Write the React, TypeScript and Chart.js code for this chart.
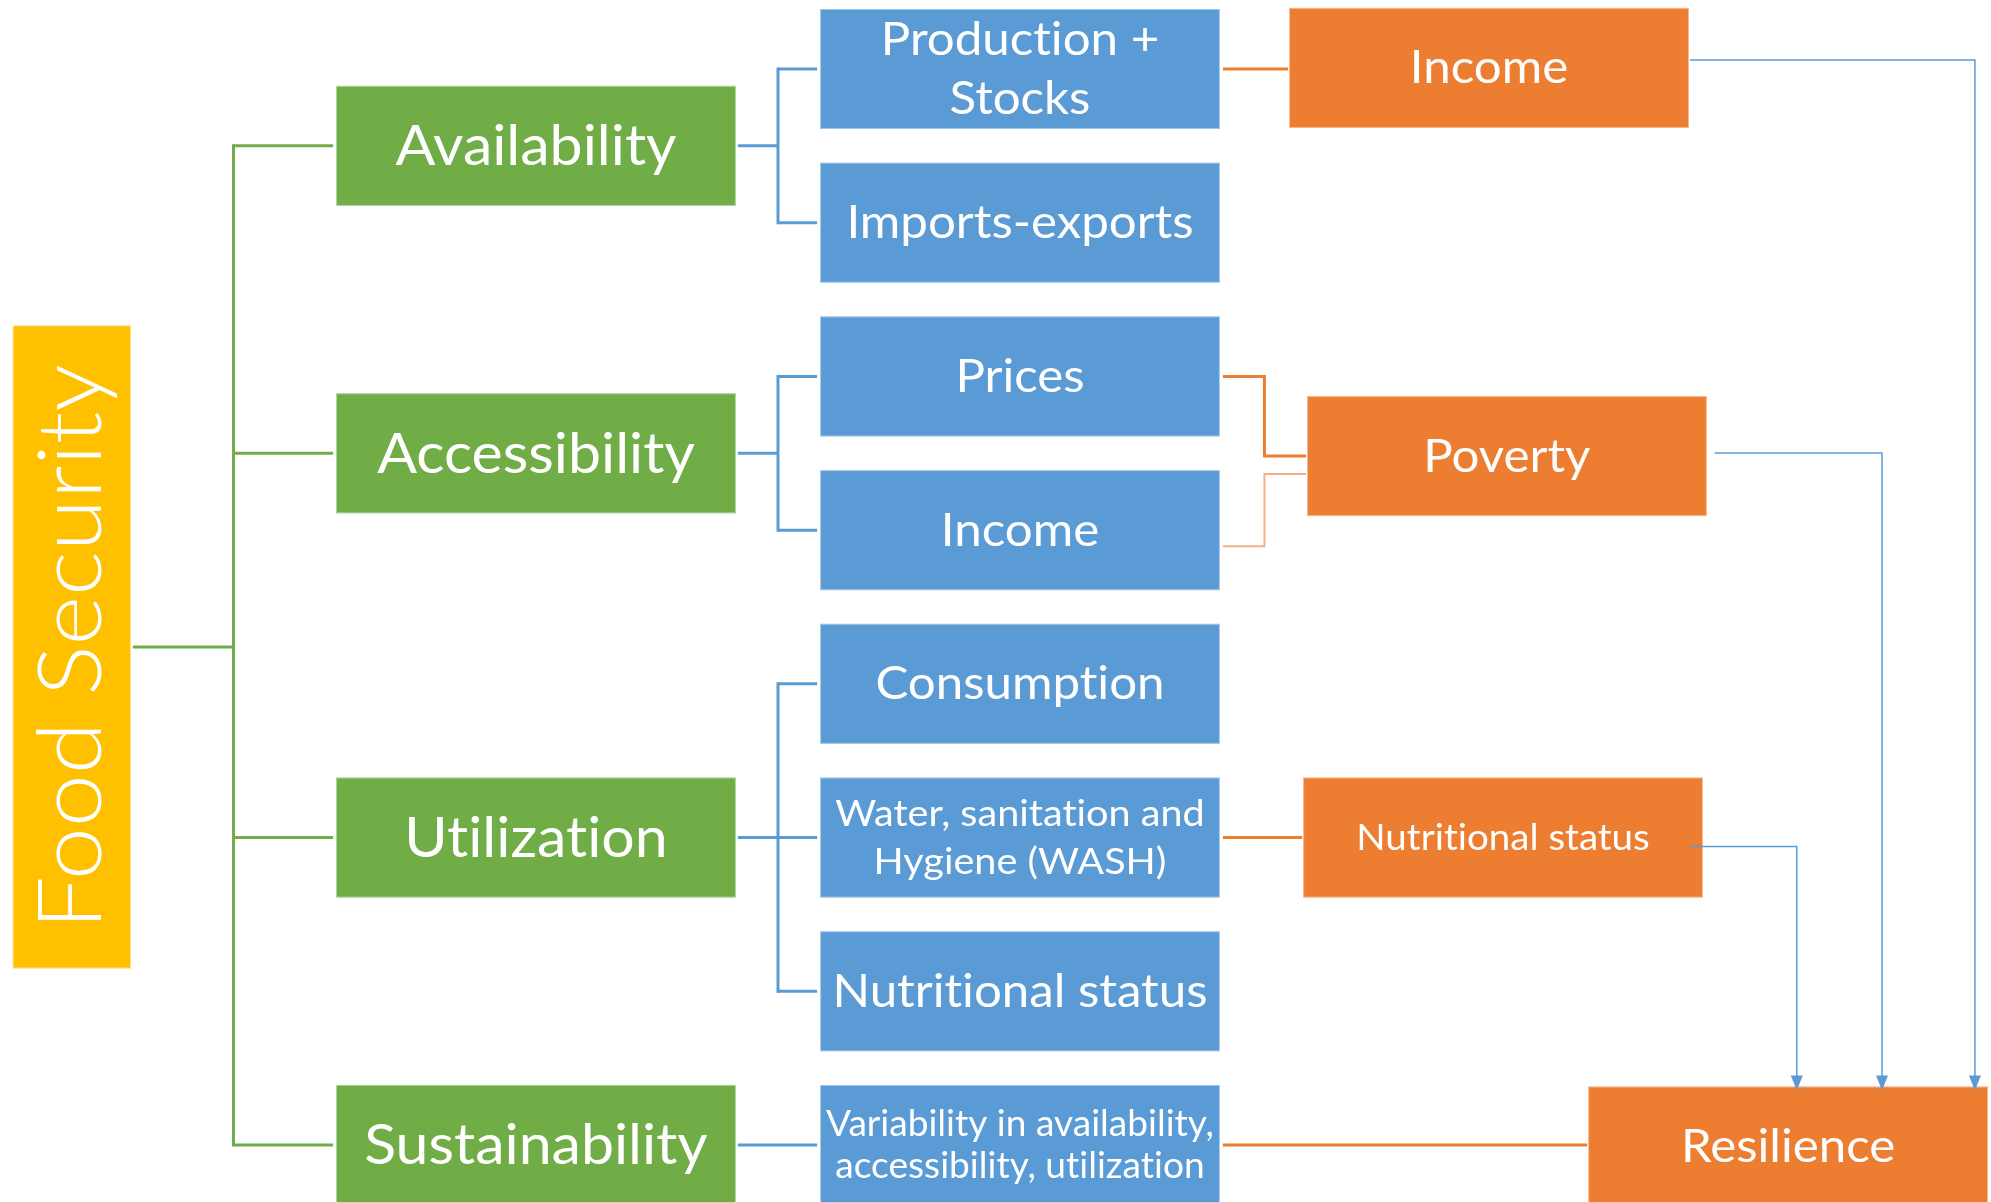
import React, { useEffect, useRef } from 'react';
import { Chart, registerables } from 'chart.js';

Chart.register(...registerables);

// ---------- DATA ----------
// Nodes of the diagram: id, label lines, level (0 = root, 1 = dimension, 2 = indicator, 3 = outcome)
const nodeIds = [
  'food', 'avail', 'access', 'util', 'sustain',
  'prod', 'imports', 'prices', 'incomeB', 'consumption', 'wash', 'nutriB', 'variability',
  'incomeO', 'poverty', 'nutriO', 'resilience',
];
const nodeLabels: string[][] = [
  ['Food Security'], ['Availability'], ['Accessibility'], ['Utilization'], ['Sustainability'],
  ['Production +', 'Stocks'], ['Imports-exports'], ['Prices'], ['Income'], ['Consumption'],
  ['Water, sanitation and', 'Hygiene (WASH)'], ['Nutritional status'],
  ['Variability in availability,', 'accessibility, utilization'],
  ['Income'], ['Poverty'], ['Nutritional status'], ['Resilience'],
];
const nodeLevel = [0, 1, 1, 1, 1, 2, 2, 2, 2, 2, 2, 2, 2, 3, 3, 3, 3];
// Position of each node in diagram units (column, row)
const nodeCol = [0.041, 1, 1, 1, 1, 2, 2, 2, 2, 2, 2, 2, 2, 2.969, 3.006, 2.998, 3.587];
const nodeRow = [3.76, 0.5, 2.5, 5, 7, 0, 1, 2, 3, 4, 5, 6, 7, -0.007, 2.518, 5, 7.01];

// Hierarchy links (parent -> child)
const treeEdges: [string, string][] = [
  ['food', 'avail'], ['food', 'access'], ['food', 'util'], ['food', 'sustain'],
  ['avail', 'prod'], ['avail', 'imports'],
  ['access', 'prices'], ['access', 'incomeB'],
  ['util', 'consumption'], ['util', 'wash'], ['util', 'nutriB'],
  ['sustain', 'variability'],
];
// Indicator -> outcome links
const impactFrom = ['prod', 'prices', 'incomeB', 'wash', 'variability'];
const impactTo = ['incomeO', 'poverty', 'poverty', 'nutriO', 'resilience'];
// Outcome -> resilience arrows, and the column of their vertical lane
const arrowFrom = ['incomeO', 'poverty', 'nutriO'];
const arrowLane = [3.973, 3.781, 3.605];

// ---------- STYLES ----------
const X_RANGE = [-0.1074, 4.0062];
const Y_RANGE = [-0.449, 7.371];
const FONT = 'Lato';
const levelStyle = [
  { fill: '#FFC000', w: 0.244, h: 4.183, size: 88, weight: 300, gap: 0, sx: 1.08 },
  { fill: '#70AD47', w: 0.826, h: 0.781, size: 57, weight: 400, gap: 0, sx: 1.035 },
  { fill: '#5B9BD5', w: 0.826, h: 0.781, size: 46, weight: 400, gap: 59, sx: 1.07 },
  { fill: '#ED7D31', w: 0.826, h: 0.781, size: 46, weight: 400, gap: 0, sx: 1.07 },
];
const textOverride: Record<string, { size: number; gap: number; sx: number }> = {
  wash: { size: 36, gap: 48, sx: 1.1 },
  variability: { size: 36, gap: 42, sx: 1.03 },
  nutriO: { size: 36, gap: 0, sx: 1.07 },
};
const impactStyle = [
  { color: '#ED7D31', width: 3, s1: 0, s2: 0 },
  { color: '#ED7D31', width: 3, s1: 0, s2: 0 },
  { color: '#F4B183', width: 2, s1: 0.104, s2: 0.117 },
  { color: '#ED7D31', width: 3, s1: 0, s2: 0 },
  { color: '#ED7D31', width: 3, s1: 0, s2: 0 },
];
const arrowStyle = [
  { s: -0.052, dx: 1 },
  { s: -0.02, dx: 8 },
  { s: 0.058, dx: -13 },
];

// break typographic "ti" ligatures so the text keeps its plain letter shapes
const noLig = (s: string) => s.replace(/t(?=[il])/g, 't\u200C').replace(/f(?=[il])/g, 'f\u200C');

const diagramPlugin = {
  id: 'diagram',
  afterDraw(chart: any) {
    const ctx: CanvasRenderingContext2D = chart.ctx;
    const xs = chart.scales.x;
    const ys = chart.scales.y;
    const px = (c: number) => xs.getPixelForValue(c);
    const py = (r: number) => ys.getPixelForValue(r);
    const idx = (id: string) => nodeIds.indexOf(id);
    const box = (id: string) => {
      const i = idx(id);
      const st = levelStyle[nodeLevel[i]];
      const cx = px(nodeCol[i]);
      const cy = py(nodeRow[i]);
      const w = Math.abs(px(nodeCol[i] + st.w / 2) - px(nodeCol[i] - st.w / 2));
      const h = Math.abs(py(nodeRow[i] + st.h / 2) - py(nodeRow[i] - st.h / 2));
      return { cx, cy, w, h, left: cx - w / 2, right: cx + w / 2, top: cy - h / 2, bottom: cy + h / 2 };
    };
    const rowPx = Math.abs(py(1) - py(0));
    const line = (pts: number[][], color: string, width: number) => {
      ctx.save();
      ctx.strokeStyle = color;
      ctx.lineWidth = width;
      ctx.lineJoin = 'miter';
      ctx.lineCap = 'butt';
      ctx.beginPath();
      pts.forEach((p, k) => (k === 0 ? ctx.moveTo(p[0], p[1]) : ctx.lineTo(p[0], p[1])));
      ctx.stroke();
      ctx.restore();
    };

    ctx.save();
    // --- hierarchy connectors ---
    const parents = Array.from(new Set(treeEdges.map((e) => e[0])));
    parents.forEach((p) => {
      const pb = box(p);
      const kids = treeEdges.filter((e) => e[0] === p).map((e) => box(e[1]));
      const color = nodeLevel[idx(p)] === 0 ? '#70AD47' : '#5B9BD5';
      if (kids.length === 1) {
        line([[pb.right + 2, pb.cy], [kids[0].left - 3, pb.cy]], color, 3);
        return;
      }
      const tx = (pb.right + kids[0].left) / 2;
      const ysK = kids.map((k) => k.cy);
      line([[pb.right + 2, pb.cy], [tx, pb.cy]], color, 3);
      line([[tx, Math.min(...ysK, pb.cy) - 1.5], [tx, Math.max(...ysK, pb.cy) + 1.5]], color, 3);
      kids.forEach((k) => line([[tx, k.cy], [k.left - 3, k.cy]], color, 3));
    });

    // --- indicator -> outcome connectors ---
    impactFrom.forEach((a, k) => {
      const st = impactStyle[k];
      const ab = box(a);
      const bb = box(impactTo[k]);
      const y1 = ab.cy + st.s1 * rowPx;
      const y2 = bb.cy + st.s2 * rowPx;
      const x1 = ab.right + 3;
      const x2 = bb.left - 1;
      if (Math.abs(y1 - y2) < 3) {
        line([[x1, y1], [x2, y1]], st.color, st.width);
      } else {
        const mx = (x1 + x2) / 2;
        line([[x1, y1], [mx, y1], [mx, y2], [x2, y2]], st.color, st.width);
      }
    });

    // --- boxes ---
    nodeIds.forEach((id, i) => {
      const b = box(id);
      const st = levelStyle[nodeLevel[i]];
      ctx.fillStyle = st.fill;
      ctx.fillRect(b.left, b.top, b.w, b.h);
      ctx.strokeStyle = 'rgba(255,255,255,0.45)';
      ctx.lineWidth = 1;
      ctx.strokeRect(b.left + 0.5, b.top + 0.5, b.w - 1, b.h - 1);
    });

    // --- arrows to resilience ---
    const rb = box('resilience');
    arrowFrom.forEach((a, k) => {
      const ab = box(a);
      const st = arrowStyle[k];
      const y = ab.cy + st.s * rowPx;
      const lx = px(arrowLane[k]);
      const tip = rb.top + 4;
      line([[ab.right + st.dx, y], [lx, y], [lx, tip - 12]], '#5B9BD5', 1.5);
      ctx.fillStyle = '#5B9BD5';
      ctx.beginPath();
      ctx.moveTo(lx, tip);
      ctx.lineTo(lx - 6, tip - 15);
      ctx.lineTo(lx + 6, tip - 15);
      ctx.closePath();
      ctx.fill();
    });

    // --- labels ---
    ctx.fillStyle = '#FFFFFF';
    ctx.textAlign = 'center';
    ctx.textBaseline = 'alphabetic';
    nodeIds.forEach((id, i) => {
      const b = box(id);
      const lvl = nodeLevel[i];
      const st = levelStyle[lvl];
      const ov = textOverride[id];
      const size = ov ? ov.size : st.size;
      const gap = ov ? ov.gap : st.gap;
      const sx = ov ? ov.sx : st.sx;
      const cap = size * 0.72;
      ctx.font = `${st.weight} ${size}px ${FONT}`;
      const lines = nodeLabels[i];
      if (lvl === 0) {
        ctx.save();
        ctx.translate(b.cx, b.cy);
        ctx.rotate(-Math.PI / 2);
        ctx.scale(sx, 1);
        ctx.fillText(noLig(lines[0]), 0, cap / 2 - 3);
        ctx.restore();
        return;
      }
      const block = cap + (lines.length - 1) * gap;
      let base = b.cy - block / 2 + cap - 1;
      lines.forEach((ln) => {
        ctx.save();
        ctx.translate(b.cx, base);
        ctx.scale(sx, 1);
        ctx.fillText(noLig(ln), 0, 0);
        ctx.restore();
        base += gap;
      });
    });
    ctx.restore();
  },
};

export default function App() {
  const ref = useRef<HTMLCanvasElement>(null);
  useEffect(() => {
    document.body.style.margin = '0';
    const chart = new Chart(ref.current as HTMLCanvasElement, {
      type: 'scatter',
      data: {
        datasets: [
          {
            data: nodeCol.map((c, i) => ({ x: c, y: nodeRow[i] })),
            pointRadius: 0,
            pointHoverRadius: 0,
          },
        ],
      },
      options: {
        responsive: false,
        animation: false,
        devicePixelRatio: 1,
        events: [],
        layout: { padding: 0 },
        plugins: { legend: { display: false }, tooltip: { enabled: false } },
        scales: {
          x: { type: 'linear', min: X_RANGE[0], max: X_RANGE[1], display: false },
          y: { type: 'linear', min: Y_RANGE[0], max: Y_RANGE[1], reverse: true, display: false },
        },
      },
      plugins: [diagramPlugin],
    });
    return () => chart.destroy();
  }, []);
  return (
    <div style={{ width: 1991, height: 1202, overflow: 'hidden' }}>
      <canvas ref={ref} width={1991} height={1202} style={{ display: 'block' }} />
    </div>
  );
}
